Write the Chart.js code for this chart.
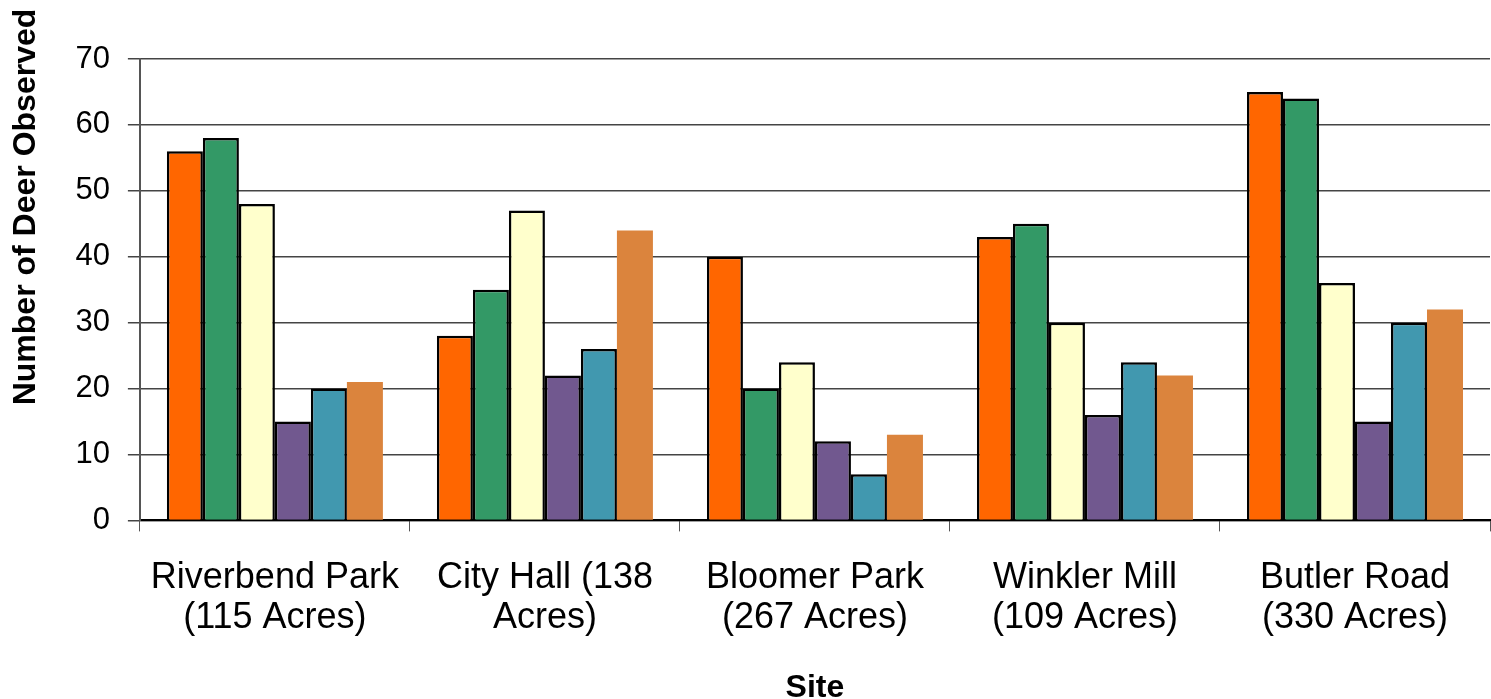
<!DOCTYPE html>
<html>
<head>
<meta charset="utf-8">
<script src="https://cdn.jsdelivr.net/npm/chart.js@4"></script>
<style>
  html, body { margin: 0; padding: 0; background: #fff; }
  #wrap { width: 1491px; height: 699px; }
</style>
</head>
<body>
<div id="wrap"><canvas id="canvas" width="1491" height="699"></canvas></div>
<script>
// sites along the x axis (two lines each)
const sites = [
  ["Riverbend Park", "(115 Acres)"],
  ["City Hall (138", "Acres)"],
  ["Bloomer Park", "(267 Acres)"],
  ["Winkler Mill", "(109 Acres)"],
  ["Butler Road", "(330 Acres)"]
];

// one array per survey series (no legend in the original)
const series1 = [56, 28, 40, 43, 65];
const series2 = [58, 35, 20, 45, 64];
const series3 = [48, 47, 24, 30, 36];
const series4 = [15, 22, 12, 16, 15];
const series5 = [20, 26, 7, 24, 30];
const series6 = [21, 44, 13, 22, 32];

const yTicks = [0, 10, 20, 30, 40, 50, 60, 70];
const yTitle = "Number of Deer Observed";

const colors = ["#FF6600", "#339966", "#FFFFCC", "#71588F", "#4198AF", "#DB843D"];
const allSeries = [series1, series2, series3, series4, series5, series6];

const datasets = allSeries.map((vals, i) => ({
  label: "Series " + (i + 1),
  data: vals,
  backgroundColor: colors[i],
  borderColor: "#000",
  borderWidth: i === 5 ? 0 : 2.5,
  categoryPercentage: 0.8,
  barPercentage: 1.0,
}));

const font = "Liberation Sans, Arial, sans-serif";

// the y title sits higher than the plot centre in the original,
// so the axis title only reserves room and this draws the text
const yTitlePlugin = {
  id: "yTitleHigh",
  afterDraw(chart) {
    const ctx = chart.ctx;
    ctx.save();
    ctx.translate(26, 207);
    ctx.rotate(-Math.PI / 2);
    ctx.font = "bold 32px " + font;
    ctx.fillStyle = "#000";
    ctx.textAlign = "center";
    ctx.textBaseline = "middle";
    ctx.fillText(yTitle, 0, 0);
    ctx.restore();
  },
};

const canvas = document.querySelector("#canvas");
const chart = new Chart(canvas, {
  type: "bar",
  data: { labels: sites, datasets: datasets },
  plugins: [yTitlePlugin],
  options: {
    responsive: false,
    devicePixelRatio: 1,
    animation: false,
    layout: { padding: { top: 59, right: 1, left: 5, bottom: 0 } },
    plugins: {
      legend: { display: false },
      tooltip: { enabled: false },
    },
    scales: {
      x: {
        offset: true,
        grid: {
          offset: true,
          drawOnChartArea: false,
          drawTicks: true,
          tickLength: 11,
          color: "#555",
        },
        border: { color: "#000", width: 2 },
        ticks: {
          color: "#000",
          font: { family: font, size: 36, lineHeight: 1.1 },
          padding: 27,
          maxRotation: 0,
          autoSkip: false,
        },
        title: {
          display: true,
          text: "Site",
          color: "#000",
          font: { family: font, size: 32, weight: "bold", lineHeight: 0.7 },
          padding: { top: 12, bottom: 0 },
        },
      },
      y: {
        min: 0,
        max: 70,
        afterBuildTicks: (axis) => { axis.ticks = yTicks.map(v => ({ value: v })); },
        grid: {
          color: "#444",
          lineWidth: 1.5,
          tickLength: 12,
        },
        border: { color: "#555", width: 2 },
        ticks: {
          color: "#000",
          font: { family: font, size: 31 },
          padding: 18,
        },
        title: {
          display: true,
          text: yTitle,
          color: "rgba(0,0,0,0)",
          font: { family: font, size: 32, weight: "bold" },
          padding: { top: 2, bottom: 12 },
        },
      },
    },
  },
});
</script>
</body>
</html>
